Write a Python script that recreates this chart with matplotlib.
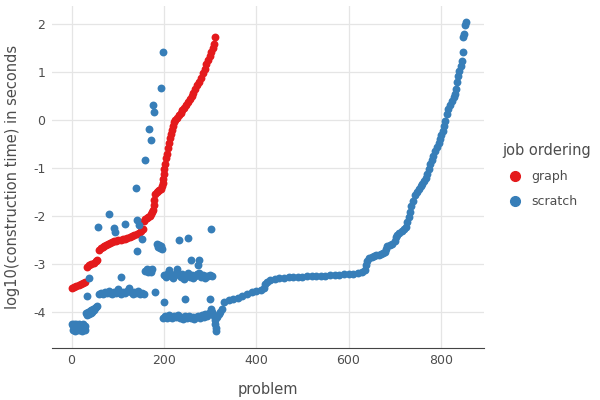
import matplotlib
matplotlib.use('Agg')
import matplotlib.pyplot as plt
from matplotlib.lines import Line2D

plt.rcParams['axes.unicode_minus'] = False

# graph ordering: problem index vs log10 time
graph_problem = [0, 5, 10, 15, 20, 25, 30,
                 33, 38, 43, 48, 53, 56,
                 59, 63, 67, 71, 75, 79, 83, 87, 91,
                 96, 101, 106, 111, 116, 121, 126, 131, 136, 141, 146, 151, 155,
                 157, 160, 163, 166, 169, 172, 175, 177,
                 178, 179,
                 181, 184, 187, 190, 193, 196, 198,
                 199, 200, 201,
                 203, 205, 207, 209, 211, 213, 215, 217, 219, 221,
                 224, 228, 232, 236, 240, 244, 248, 252, 256, 260, 264, 268,
                 272, 276, 280, 284, 288, 292, 296, 300, 303, 306, 308, 310]
graph_time = [-3.49, -3.47, -3.46, -3.44, -3.42, -3.40, -3.38,
              -3.06, -3.03, -3.00, -2.97, -2.94, -2.92,
              -2.70, -2.67, -2.64, -2.62, -2.60, -2.58, -2.56, -2.55, -2.53,
              -2.52, -2.51, -2.50, -2.48, -2.47, -2.45, -2.43, -2.41, -2.39, -2.37, -2.35, -2.32, -2.28,
              -2.10, -2.07, -2.05, -2.02, -1.99, -1.96, -1.92, -1.88,
              -1.78, -1.66,
              -1.55, -1.51, -1.48, -1.46, -1.43, -1.38, -1.32,
              -1.22, -1.12, -1.03,
              -0.92, -0.80, -0.70, -0.58, -0.47, -0.38, -0.29, -0.20, -0.12, -0.05,
              0.00, 0.05, 0.10, 0.15, 0.20, 0.26, 0.32, 0.38, 0.44, 0.50, 0.57, 0.64,
              0.72, 0.80, 0.88, 0.97, 1.07, 1.16, 1.25, 1.33, 1.41, 1.50, 1.58, 1.73]

# scratch ordering, first part (same problems as graph, scattered)
scratch_head_problem = [
    1, 2, 4, 5, 7, 8, 10, 11, 13, 14, 16, 17, 19, 20, 22, 23, 25, 26, 28, 28,
    31, 33, 35, 37, 39, 41, 43, 45, 47, 49, 51, 53, 55,
    60, 64, 68, 72, 76, 80, 84, 88, 92, 96, 100, 104, 108, 112, 116, 120, 124,
    128, 132, 136, 140, 144, 148, 152, 156,
    33, 37, 57, 82, 92, 95, 108, 115, 139, 141, 142, 146, 152, 158, 167, 171,
    176, 178, 180, 193, 197, 201, 232, 245, 252, 258, 273, 275, 299, 303,
    184, 187, 189, 191, 194, 196,
    160, 163, 166, 169, 172, 175,
    200, 204, 208, 212, 216, 220, 224, 228, 232, 236, 240, 244, 248, 252, 256,
    260, 264, 268, 272, 276, 280, 284, 288, 292, 296, 300, 304,
    198, 202, 206, 210, 214, 218, 222, 226, 230, 234, 238, 242, 246, 250, 254,
    258, 262, 266, 270, 274, 278, 282, 286, 290, 294, 298,
    302, 305, 308, 310, 311, 312, 313, 316, 319, 322, 325]
scratch_head_time = [
    -4.26, -4.37, -4.30, -4.24, -4.39, -4.32, -4.26, -4.36, -4.29, -4.38,
    -4.25, -4.33, -4.37, -4.27, -4.31, -4.39, -4.25, -4.34, -4.29, -4.38,
    -4.03, -4.06, -3.99, -4.04, -3.97, -4.02, -3.95, -3.99, -3.93, -3.96, -3.91, -3.89, -3.88,
    -3.62, -3.60, -3.63, -3.58, -3.61, -3.56, -3.60, -3.63, -3.59, -3.61, -3.52, -3.60, -3.63,
    -3.58, -3.61, -3.57, -3.50, -3.59, -3.62, -3.58, -3.61, -3.57, -3.63, -3.60, -3.62,
    -3.66, -3.29, -2.23, -1.96, -2.24, -2.34, -3.27, -2.17, -1.42, -2.73, -2.08, -2.19,
    -2.48, -0.83, -0.19, -0.42, 0.31, 0.17, -3.58, 0.66, 1.42, -3.79, -2.50, -3.73,
    -2.46, -2.92, -3.02, -2.92, -3.73, -2.27,
    -2.58, -2.64, -2.60, -2.67, -2.62, -2.68,
    -3.14, -3.10, -3.17, -3.12, -3.16, -3.11,
    -3.22, -3.28, -3.18, -3.12, -3.24, -3.30, -3.20, -3.10, -3.22, -3.27, -3.20, -3.31,
    -3.24, -3.19, -3.28, -3.22, -3.30, -3.25, -3.21, -3.18, -3.27, -3.23, -3.29, -3.24,
    -3.26, -3.22, -3.25,
    -4.13, -4.08, -4.12, -4.06, -4.10, -4.13, -4.08, -4.11, -4.07, -4.12, -4.10, -4.14,
    -4.09, -4.12, -4.08, -4.13, -4.10, -4.14, -4.11, -4.09, -4.12, -4.06, -4.10, -4.04,
    -4.08, -4.03,
    -3.94, -4.00, -4.08, -4.17, -4.26, -4.34, -4.39, -4.10, -4.04, -3.99, -3.94]

# scratch ordering, remaining problems (sorted)
scratch_tail_problem = [
    330, 340, 350, 360, 370, 380, 390, 400, 410, 416, 420, 424, 430, 440, 450,
    460, 470, 480, 490, 500, 510, 520, 530, 540, 550, 560, 570, 580, 590, 600,
    610, 620, 630, 635, 638, 641, 645, 650, 655, 660, 665, 670, 675, 678, 681,
    684, 690, 695, 700, 703, 706, 710, 715, 720, 724, 727, 730, 733, 736, 740,
    744, 748, 752, 756, 760, 764, 768, 771, 774, 777, 780, 784, 788, 792, 795,
    798, 801, 804, 807, 810, 813, 816, 820, 824, 828, 831, 833, 835, 837, 840,
    843, 845, 847, 849, 850, 853, 855]
scratch_tail_time = [
    -3.80, -3.76, -3.73, -3.70, -3.66, -3.62, -3.59, -3.57, -3.54, -3.50, -3.42,
    -3.37, -3.33, -3.31, -3.30, -3.29, -3.28, -3.28, -3.27, -3.27, -3.26, -3.25,
    -3.25, -3.24, -3.24, -3.23, -3.23, -3.22, -3.21, -3.21, -3.20, -3.19, -3.17,
    -3.12, -3.02, -2.93, -2.88, -2.85, -2.83, -2.82, -2.81, -2.80, -2.78, -2.74,
    -2.68, -2.63, -2.60, -2.58, -2.52, -2.44, -2.39, -2.35, -2.31, -2.27, -2.22,
    -2.12, -2.03, -1.92, -1.80, -1.68, -1.56, -1.49, -1.43, -1.38, -1.33, -1.27,
    -1.20, -1.12, -1.02, -0.92, -0.84, -0.74, -0.64, -0.56, -0.47, -0.40, -0.32,
    -0.22, -0.12, -0.02, 0.12, 0.22, 0.32, 0.40, 0.47, 0.55, 0.65, 0.80, 0.92,
    1.02, 1.12, 1.22, 1.42, 1.72, 1.80, 1.98, 2.04]

red = '#e41a1c'
blue = '#377eb8'
text_col = '#4d4d4d'

fig = plt.figure(figsize=(6, 4), dpi=100)
ax = fig.add_axes([0.087, 0.13, 0.72, 0.855])

ax.scatter(graph_problem, graph_time, s=32, color=red, linewidths=0, zorder=3)
ax.scatter(scratch_head_problem, scratch_head_time, s=32, color=blue, linewidths=0, zorder=4)
ax.scatter(scratch_tail_problem, scratch_tail_time, s=32, color=blue, linewidths=0, zorder=4)

ax.set_xlim(-42, 894)
ax.set_ylim(-4.75, 2.375)
ax.set_xticks([0, 200, 400, 600, 800])
ax.set_yticks([-4, -3, -2, -1, 0, 1, 2])
ax.grid(True, color='#e5e5e5', linewidth=0.9)
ax.set_axisbelow(True)
for side in ['top', 'right', 'left']:
    ax.spines[side].set_visible(False)
ax.spines['bottom'].set_color('#444444')
ax.tick_params(length=0, labelsize=9, labelcolor=text_col)
ax.tick_params(axis='x', pad=4)
ax.tick_params(axis='y', pad=5)

ax.set_xlabel('problem', fontsize=10.5, color=text_col, labelpad=11)
ax.set_ylabel('log10(construction time) in seconds', fontsize=10.5, color=text_col, labelpad=9)

handles = [Line2D([], [], marker='o', linestyle='', color=red, markersize=7),
           Line2D([], [], marker='o', linestyle='', color=blue, markersize=7)]
leg = fig.legend(handles, ['graph', 'scratch'], title='job ordering',
                 loc='upper left', bbox_to_anchor=(0.818, 0.67), frameon=False,
                 fontsize=9, title_fontsize=10.5, handletextpad=0.3,
                 labelspacing=0.95, alignment='left')
for t in leg.get_texts():
    t.set_color(text_col)
leg.get_title().set_color(text_col)

fig.savefig('out.png', dpi=100)
